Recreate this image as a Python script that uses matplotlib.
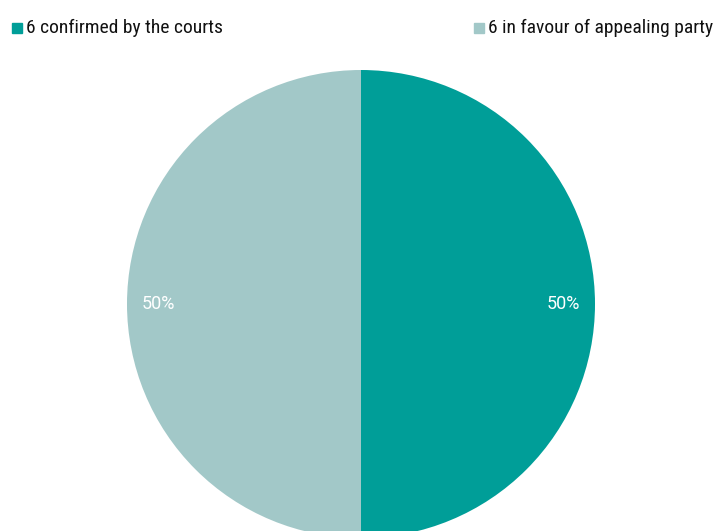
import matplotlib

matplotlib.use("Agg")
import matplotlib.pyplot as plt
from matplotlib.patches import Rectangle

labels = ["6 confirmed by the courts", "6 in favour of appealing party"]
counts = [6, 6]
colors = ["#009E98", "#A2C8C8"]

fig = plt.figure(figsize=(7.16, 5.31), dpi=100)
ax = fig.add_axes([127 / 716, -7 / 531, 468 / 716, 468 / 531])

wedges, texts, autotexts = ax.pie(
    counts,
    colors=colors,
    startangle=90,
    counterclock=False,
    autopct="%.0f%%",
    pctdistance=0.865,
    wedgeprops={"linewidth": 0},
)
for t in autotexts:
    t.set_color("white")
    t.set_fontsize(13)
    t.set_family("Roboto")
ax.set_xlim(-1, 1)
ax.set_ylim(-1, 1)
ax.set_aspect("equal")
ax.axis("off")

# legend entries across the top edge
legend_x = [12 / 716, 474 / 716]
for x, lab, col in zip(legend_x, labels, colors):
    fig.patches.append(Rectangle((x, 1 - 33 / 531), 10 / 716, 10 / 531,
                                 transform=fig.transFigure, color=col))
    fig.text(x + 14 / 716, 1 - 28 / 531, lab, va="center", ha="left",
             fontsize=14, family="Roboto Condensed", color="#111111")

fig.savefig("out.png", dpi=100)
